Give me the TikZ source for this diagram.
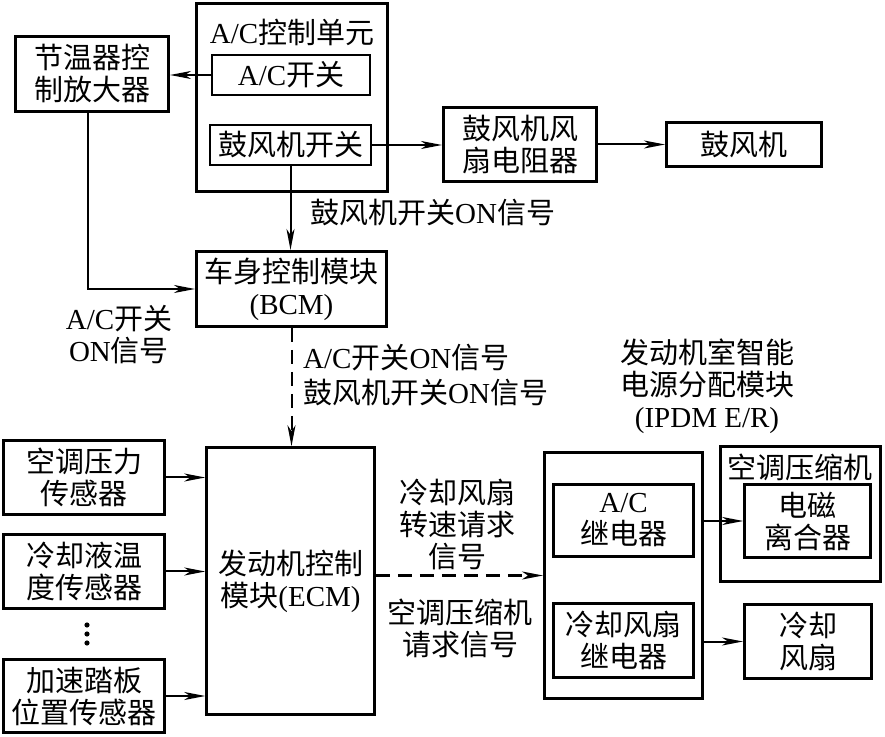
\documentclass[tikz,border=0pt]{standalone}
\usepackage{fontspec}
\setmainfont{Liberation Serif}
\newfontfamily\cjk{Noto Sans CJK SC}
\newcommand{\zh}[1]{{\cjk #1}}
\usetikzlibrary{arrows.meta,positioning}
\tikzset{
  >={Stealth[length=21pt,width=8pt,inset=6pt]},
  box/.style 2 args={draw,line width=3pt,minimum width=#1,minimum height=#2,
    inner sep=0pt,align=center,font=\fontsize{29}{32}\selectfont},
  inbox/.style 2 args={box={#1}{#2},line width=2.5pt},
  tag/.style={inner sep=0pt,align=center,font=\fontsize{29}{32}\selectfont},
  flow/.style={->,line width=2pt},
  sig/.style={dash pattern=on 14pt off 8pt},
}
\begin{document}
\begin{tikzpicture}[x=1pt,y=1pt]
  \useasboundingbox (0,0) rectangle (885,736);
  % A/C control unit and the blower path
  \node[box={191}{188}] (acunit) at (292,638.5) {};
  \node[tag] (acunittitle) at (292,704) {A/C\zh{控制单元}};
  \node[inbox={158}{40}] (acsw) at (291,661) {A/C\zh{开关}};
  \node[inbox={161}{40}] (blsw) at (290.5,591) {\zh{鼓风机开关}};
  \node[box={153}{75}] (thermo) at (92,662) {\zh{节温器控}\\\zh{制放大器}};
  \node[box={153}{74}] (resist) at (520,591.5) {\zh{鼓风机风}\\\zh{扇电阻器}};
  \node[box={155}{44}] (blower) at (744,591.5) {\zh{鼓风机}};
  % modules
  \node[box={190}{75}] (bcm) at (291.5,447) {\zh{车身控制模块}\\(BCM)};
  \node[inbox={168}{267}] (ecm) at (290.5,155) {\zh{发动机控制}\\\zh{模块}(ECM)};
  % sensors
  \node[box={161}{74}] (press) at (84,258.5) {\zh{空调压力}\\\zh{传感器}};
  \node[box={161}{74}] (coolant) at (84,164.5) {\zh{冷却液温}\\\zh{度传感器}};
  \node[box={161}{73}] (pedal) at (84,40) {\zh{加速踏板}\\\zh{位置传感器}};
  \foreach \y in {93,102,111} \fill (87,\y) circle (2.6);
  % IPDM E/R
  \node[tag] (ipdmtitle) at (707,350) {\zh{发动机室智能}\\\zh{电源分配模块}\\(IPDM E/R)};
  \node[box={158}{246}] (ipdm) at (623.5,160.5) {};
  \node[inbox={140}{72}] (acrelay) at (623.5,215.5) {A/C\\\zh{继电器}};
  \node[inbox={140}{74}] (fanrelay) at (623.5,95.5) {\zh{冷却风扇}\\\zh{继电器}};
  \node[box={160}{135}] (comp) at (800.5,222) {};
  \node[tag] (comptitle) at (800,269) {\zh{空调压缩机}};
  \node[inbox={126}{73}] (clutch) at (807.5,215) {\zh{电磁}\\\zh{离合器}};
  \node[box={127}{74}] (fan) at (808,94.5) {\zh{冷却}\\\zh{风扇}};
  % signal labels
  \node[tag,anchor=west] (blsig) at (310,523) {\zh{鼓风机开关}ON\zh{信号}};
  \node[tag] (acsig) at (119,401) {A/C\zh{开关}\\ON\zh{信号}};
  \node[tag,anchor=west,align=left,font=\fontsize{29}{35}\selectfont] (bcmsig) at (303,360.5)
    {A/C\zh{开关}ON\zh{信号}\\\zh{鼓风机开关}ON\zh{信号}};
  \node[tag] (fanreq) at (457,211.5) {\zh{冷却风扇}\\\zh{转速请求}\\\zh{信号}};
  \node[tag] (compreq) at (460,108) {\zh{空调压缩机}\\\zh{请求信号}};
  % connectors
  \draw[flow] (acsw.west) -- (acsw.west -| thermo.east);
  \draw[flow] (blsw.east) -- (blsw.east -| resist.west);
  \draw[flow] (resist.east) -- (resist.east -| blower.west);
  \draw[flow] (blsw.south) -- (blsw.south |- bcm.north);
  \draw[flow] ([xshift=-4pt]thermo.south) |- (bcm.west);
  \draw[flow,sig] (bcm.south) -- (bcm.south |- ecm.north);
  \foreach \s in {press,coolant,pedal} \draw[flow] (\s.east) -- (\s.east -| ecm.west);
  \draw[flow,sig] (ipdm.west -| ecm.east) -- (ipdm.west);
  \draw[flow] (ipdm.east |- clutch.west) -- (clutch.west);
  \draw[flow] (ipdm.east |- fan.west) -- (fan.west);
\end{tikzpicture}
\end{document}
